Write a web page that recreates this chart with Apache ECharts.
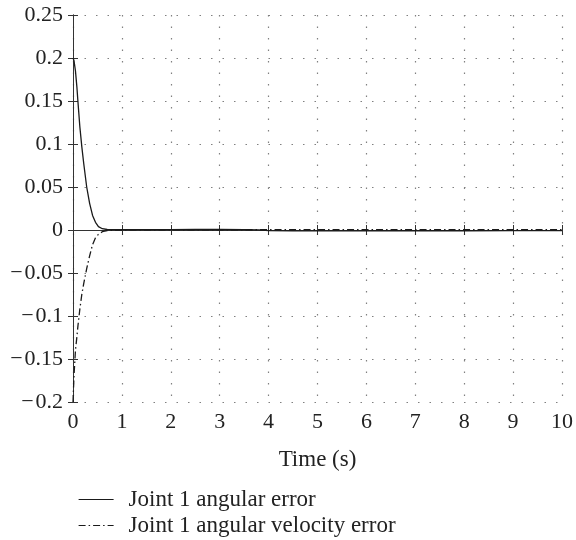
<!DOCTYPE html>
<html>
<head>
<meta charset="utf-8">
<script src="https://cdn.jsdelivr.net/npm/echarts@6/dist/echarts.min.js"></script>
<style>
  html, body { margin: 0; padding: 0; background: #fff; }
  #chart { width: 576px; height: 540px; }
</style>
</head>
<body>
<div id="chart"></div>
<script>
// values
let time = [0, 0.02, 0.05, 0.08, 0.1, 0.14, 0.18, 0.22, 0.28, 0.34, 0.4, 0.46, 0.52, 0.6, 0.7, 0.8,
    1, 1.5, 2, 2.5, 3, 3.5, 3.8, 4, 4.5, 5, 6, 7, 8, 9, 10];
let angularError = [0.2, 0.197, 0.185, 0.166, 0.15, 0.12, 0.097, 0.077, 0.05, 0.031, 0.017, 0.009, 0.004, 0.0015, 0.0006, 0.0004,
    0.0004, 0.0005, 0.0005, 0.0006, 0.0006, 0.0005, 0.0002, -0.0008, -0.001, -0.001, -0.001, -0.0009, -0.0009, -0.0008, -0.0008];
let velocityError = [-0.2, -0.17, -0.14, -0.124, -0.112, -0.092, -0.075, -0.062, -0.045, -0.03, -0.017, -0.009, -0.005, -0.002, -0.0008, -0.0003,
    0, 0.0002, 0.0003, 0.0003, 0.0003, 0.0003, 0.0003, 0.0003, 0.0003, 0.0003, 0.0003, 0.0003, 0.0003, 0.0003, 0.0003];
let seriesNames = ['Joint 1 angular error', 'Joint 1 angular velocity error'];

let myChart = echarts.init(document.getElementById('chart'));
let colors = ['#1a1a1a', '#333', '#808080'];
let font = 'Liberation Serif';

function pairs(ys) {
    return time.map((t, i) => [t, ys[i]]);
}
function fmt(v) {
    let s = String(Math.round(v * 100) / 100);
    return s.replace('-', '\u2212\u200A');
}

let boxAxis = {
    show: true,
    lineStyle: { color: colors[1], width: 1 }
};
let innerTick = {
    show: true,
    inside: true,
    length: 5,
    lineStyle: { color: colors[1] }
};
let dotted = {
    show: true,
    lineStyle: { color: colors[2], type: [1.5, 10], width: 1.2 }
};

let option = {
    backgroundColor: '#fff',
    animation: false,
    textStyle: { fontFamily: font },
    grid: { left: 73, right: 11, top: 15, bottom: 138 },
    xAxis: [{
        type: 'value',
        min: 0,
        max: 10,
        interval: 1,
        position: 'bottom',
        axisLine: boxAxis,
        axisTick: innerTick,
        axisLabel: { fontFamily: font, fontSize: 22, color: '#222', margin: 9, formatter: fmt },
        splitLine: dotted,
        name: 'Time (s)',
        nameLocation: 'middle',
        nameGap: 46,
        nameTextStyle: { fontFamily: font, fontSize: 23, color: '#222' }
    }, {
        type: 'value',
        min: 0,
        max: 10,
        interval: 1,
        position: 'top',
        axisLine: boxAxis,
        axisTick: innerTick,
        axisLabel: { show: false },
        splitLine: { show: false }
    }],
    yAxis: [{
        type: 'value',
        min: -0.2,
        max: 0.25,
        interval: 0.05,
        position: 'left',
        axisLine: boxAxis,
        axisTick: innerTick,
        axisLabel: { fontFamily: font, fontSize: 22, color: '#222', margin: 10, formatter: fmt },
        splitLine: dotted
    }, {
        type: 'value',
        min: -0.2,
        max: 0.25,
        interval: 0.05,
        position: 'right',
        axisLine: boxAxis,
        axisTick: innerTick,
        axisLabel: { show: false },
        splitLine: { show: false }
    }],
    legend: {
        show: true,
        orient: 'vertical',
        left: 73,
        top: 483,
        height: 70,
        itemWidth: 35,
        itemHeight: 14,
        itemGap: 3,
        data: seriesNames,
        itemStyle: { opacity: 0 },
        lineStyle: { width: 1.2 },
        textStyle: { fontFamily: font, fontSize: 23, color: '#222', lineHeight: 22, padding: [0, 0, 0, 10] }
    },
    series: [{
        name: seriesNames[0],
        type: 'line',
        data: pairs(angularError),
        symbol: 'none',
        lineStyle: { color: colors[0], width: 1.3 },
        itemStyle: { color: colors[0] },
        z: 3
    }, {
        name: seriesNames[1],
        type: 'line',
        data: pairs(velocityError),
        symbol: 'none',
        lineStyle: { color: colors[0], width: 1.3, type: [7, 3, 1.5, 3] },
        itemStyle: { color: colors[0] },
        z: 2
    }]
};
myChart.setOption(option);
</script>
</body>
</html>
